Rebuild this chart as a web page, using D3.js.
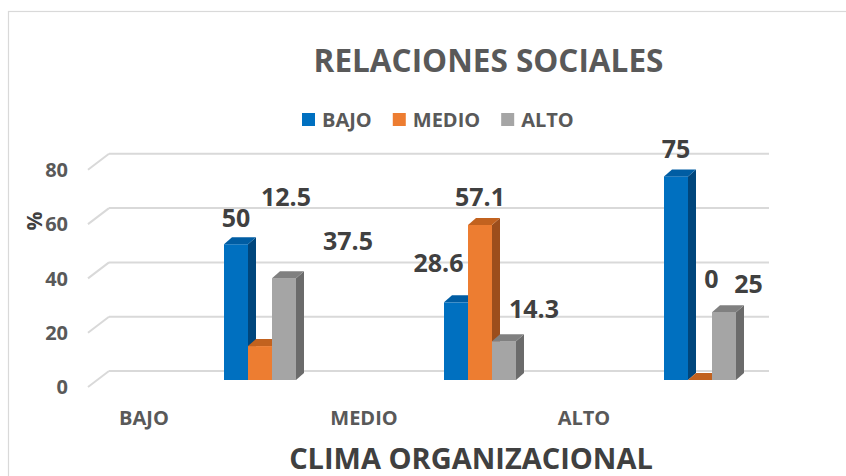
<!DOCTYPE html>
<html>
<head>
<meta charset="utf-8">
<script src="https://cdn.jsdelivr.net/npm/d3@7"></script>
<style>
  body { margin: 0; background: #fff; }
  text { font-family: "Open Sans", "DejaVu Sans", sans-serif; font-weight: bold; }
</style>
</head>
<body>
<div id="vis"></div>
<script>
'use strict';

// Chart data
const categories = ["BAJO", "MEDIO", "ALTO"];
const series = ["BAJO", "MEDIO", "ALTO"];
const valuesBajo = [50, 28.6, 75];
const valuesMedio = [12.5, 57.1, 0];
const valuesAlto = [37.5, 14.3, 25];
const yTicks = [0, 20, 40, 60, 80];

const seriesValues = [valuesBajo, valuesMedio, valuesAlto];

// Colours per series: front, side, top
const colors = [
    { front: "#0070C0", side: "#00467C", top: "#005DA3" },
    { front: "#ED7D31", side: "#9C4E1C", top: "#C2621F" },
    { front: "#A5A5A5", side: "#6B6B6B", top: "#808080" }
];

const constraints = { width: 846, height: 476 };

// 3D look: back wall vs. front edge of the floor, and bar depth
const wallShift = { dx: -21, dy: 16 };
const barShift = { dy: 9 };
const barDepth = { dx: 8, dy: -7 };
const catLabelShift = -116;

// Label nudges (relative to top centre of the bar), [category][series]
const labelNudge = [
    [[0, -17], [26, -140], [64, -28]],
    [[-17.5, -30], [0, -19], [30, -23]],
    [[0, -18], [11.5, -92], [24.5, -19]]
];

let svg = d3.select("#vis").append("svg")
    .attr("width", constraints.width)
    .attr("height", constraints.height);

// Outer chart border
svg.append("rect")
    .attr("x", 8.5).attr("y", 11.5)
    .attr("width", 900).attr("height", 500)
    .attr("fill", "none")
    .attr("stroke", "#D9D9D9")
    .attr("stroke-width", 1.2);

// Scales
let y = d3.scaleLinear().domain([0, 80]).range([371, 153.8]);
let x = d3.scaleBand().domain(categories).range([150, 810]);
let xInner = d3.scaleBand().domain(series).range([0, 72]);

// Title
svg.append("text")
    .attr("x", 488.5).attr("y", 72)
    .attr("text-anchor", "middle")
    .style("font-size", "31.5px")
    .style("fill", "#595959")
    .text("RELACIONES SOCIALES");

// Legend
let legendX = 302;
series.forEach((s, i) => {
    let g = svg.append("g");
    g.append("rect")
        .attr("x", legendX).attr("y", 113)
        .attr("width", 13).attr("height", 13)
        .attr("fill", colors[i].front);
    let t = g.append("text")
        .attr("x", legendX + 20).attr("y", 127)
        .style("font-size", "20px")
        .style("fill", "#595959")
        .text(s);
    legendX += 20 + t.node().getComputedTextLength() + 21;
});

// Gridlines (back wall + side diagonal)
let grid = svg.append("g");
yTicks.forEach((t) => {
    let yb = y(t);
    grid.append("line")
        .attr("x1", 109).attr("x2", 769)
        .attr("y1", yb).attr("y2", yb)
        .attr("stroke", "#D9D9D9").attr("stroke-width", 2);
    grid.append("line")
        .attr("x1", 109 + wallShift.dx).attr("y1", yb + wallShift.dy)
        .attr("x2", 109).attr("y2", yb)
        .attr("stroke", "#D9D9D9").attr("stroke-width", 2);
});

// Y tick labels
svg.append("g").selectAll("text")
    .data(yTicks)
    .enter()
    .append("text")
        .attr("x", 68)
        .attr("y", (d) => y(d) + wallShift.dy)
        .attr("dy", "0.36em")
        .attr("text-anchor", "end")
        .style("font-size", "20px")
        .style("fill", "#595959")
        .text((d) => d);

// Y axis title
svg.append("text")
    .attr("transform", "translate(42, 221) rotate(-90)")
    .attr("text-anchor", "middle")
    .style("font-size", "21px")
    .style("fill", "#404040")
    .text("%");

// Bars
let bars = [];
categories.forEach((c, ci) => {
    series.forEach((s, si) => {
        bars.push({ cat: c, ci: ci, ser: s, si: si, value: seriesValues[si][ci] });
    });
});

let barG = svg.append("g");
bars.forEach((d) => {
    let x0 = x(d.cat) + x.bandwidth() / 2 - 36 + xInner(d.ser);
    let w = xInner.bandwidth();
    let yTop = y(d.value) + barShift.dy;
    let yBot = y(0) + barShift.dy;
    let c = colors[d.si];
    // side face
    barG.append("polygon")
        .attr("points", [
            [x0 + w, yTop], [x0 + w + barDepth.dx, yTop + barDepth.dy],
            [x0 + w + barDepth.dx, yBot + barDepth.dy], [x0 + w, yBot]
        ].map((p) => p.join(",")).join(" "))
        .attr("fill", c.side);
    // front face
    barG.append("rect")
        .attr("x", x0).attr("y", yTop)
        .attr("width", w).attr("height", yBot - yTop)
        .attr("fill", c.front);
    // top face
    barG.append("polygon")
        .attr("points", [
            [x0, yTop], [x0 + barDepth.dx, yTop + barDepth.dy],
            [x0 + w + barDepth.dx, yTop + barDepth.dy], [x0 + w, yTop]
        ].map((p) => p.join(",")).join(" "))
        .attr("fill", c.top);
});

// Data labels
svg.append("g").selectAll("text")
    .data(bars)
    .enter()
    .append("text")
        .attr("x", (d) => x(d.cat) + x.bandwidth() / 2 - 36 + xInner(d.ser) + xInner.bandwidth() / 2 + labelNudge[d.ci][d.si][0])
        .attr("y", (d) => y(d.value) + barShift.dy + labelNudge[d.ci][d.si][1])
        .attr("text-anchor", "middle")
        .style("font-size", "25px")
        .style("fill", "#404040")
        .text((d) => d.value);

// Category labels
svg.append("g").selectAll("text")
    .data(categories)
    .enter()
    .append("text")
        .attr("x", (d) => x(d) + x.bandwidth() / 2 + catLabelShift)
        .attr("y", 425)
        .attr("text-anchor", "middle")
        .style("font-size", "20px")
        .style("fill", "#595959")
        .text((d) => d);

// X axis title
svg.append("text")
    .attr("x", 471).attr("y", 469)
    .attr("text-anchor", "middle")
    .style("font-size", "29px")
    .style("fill", "#404040")
    .text("CLIMA ORGANIZACIONAL");
</script>
</body>
</html>
